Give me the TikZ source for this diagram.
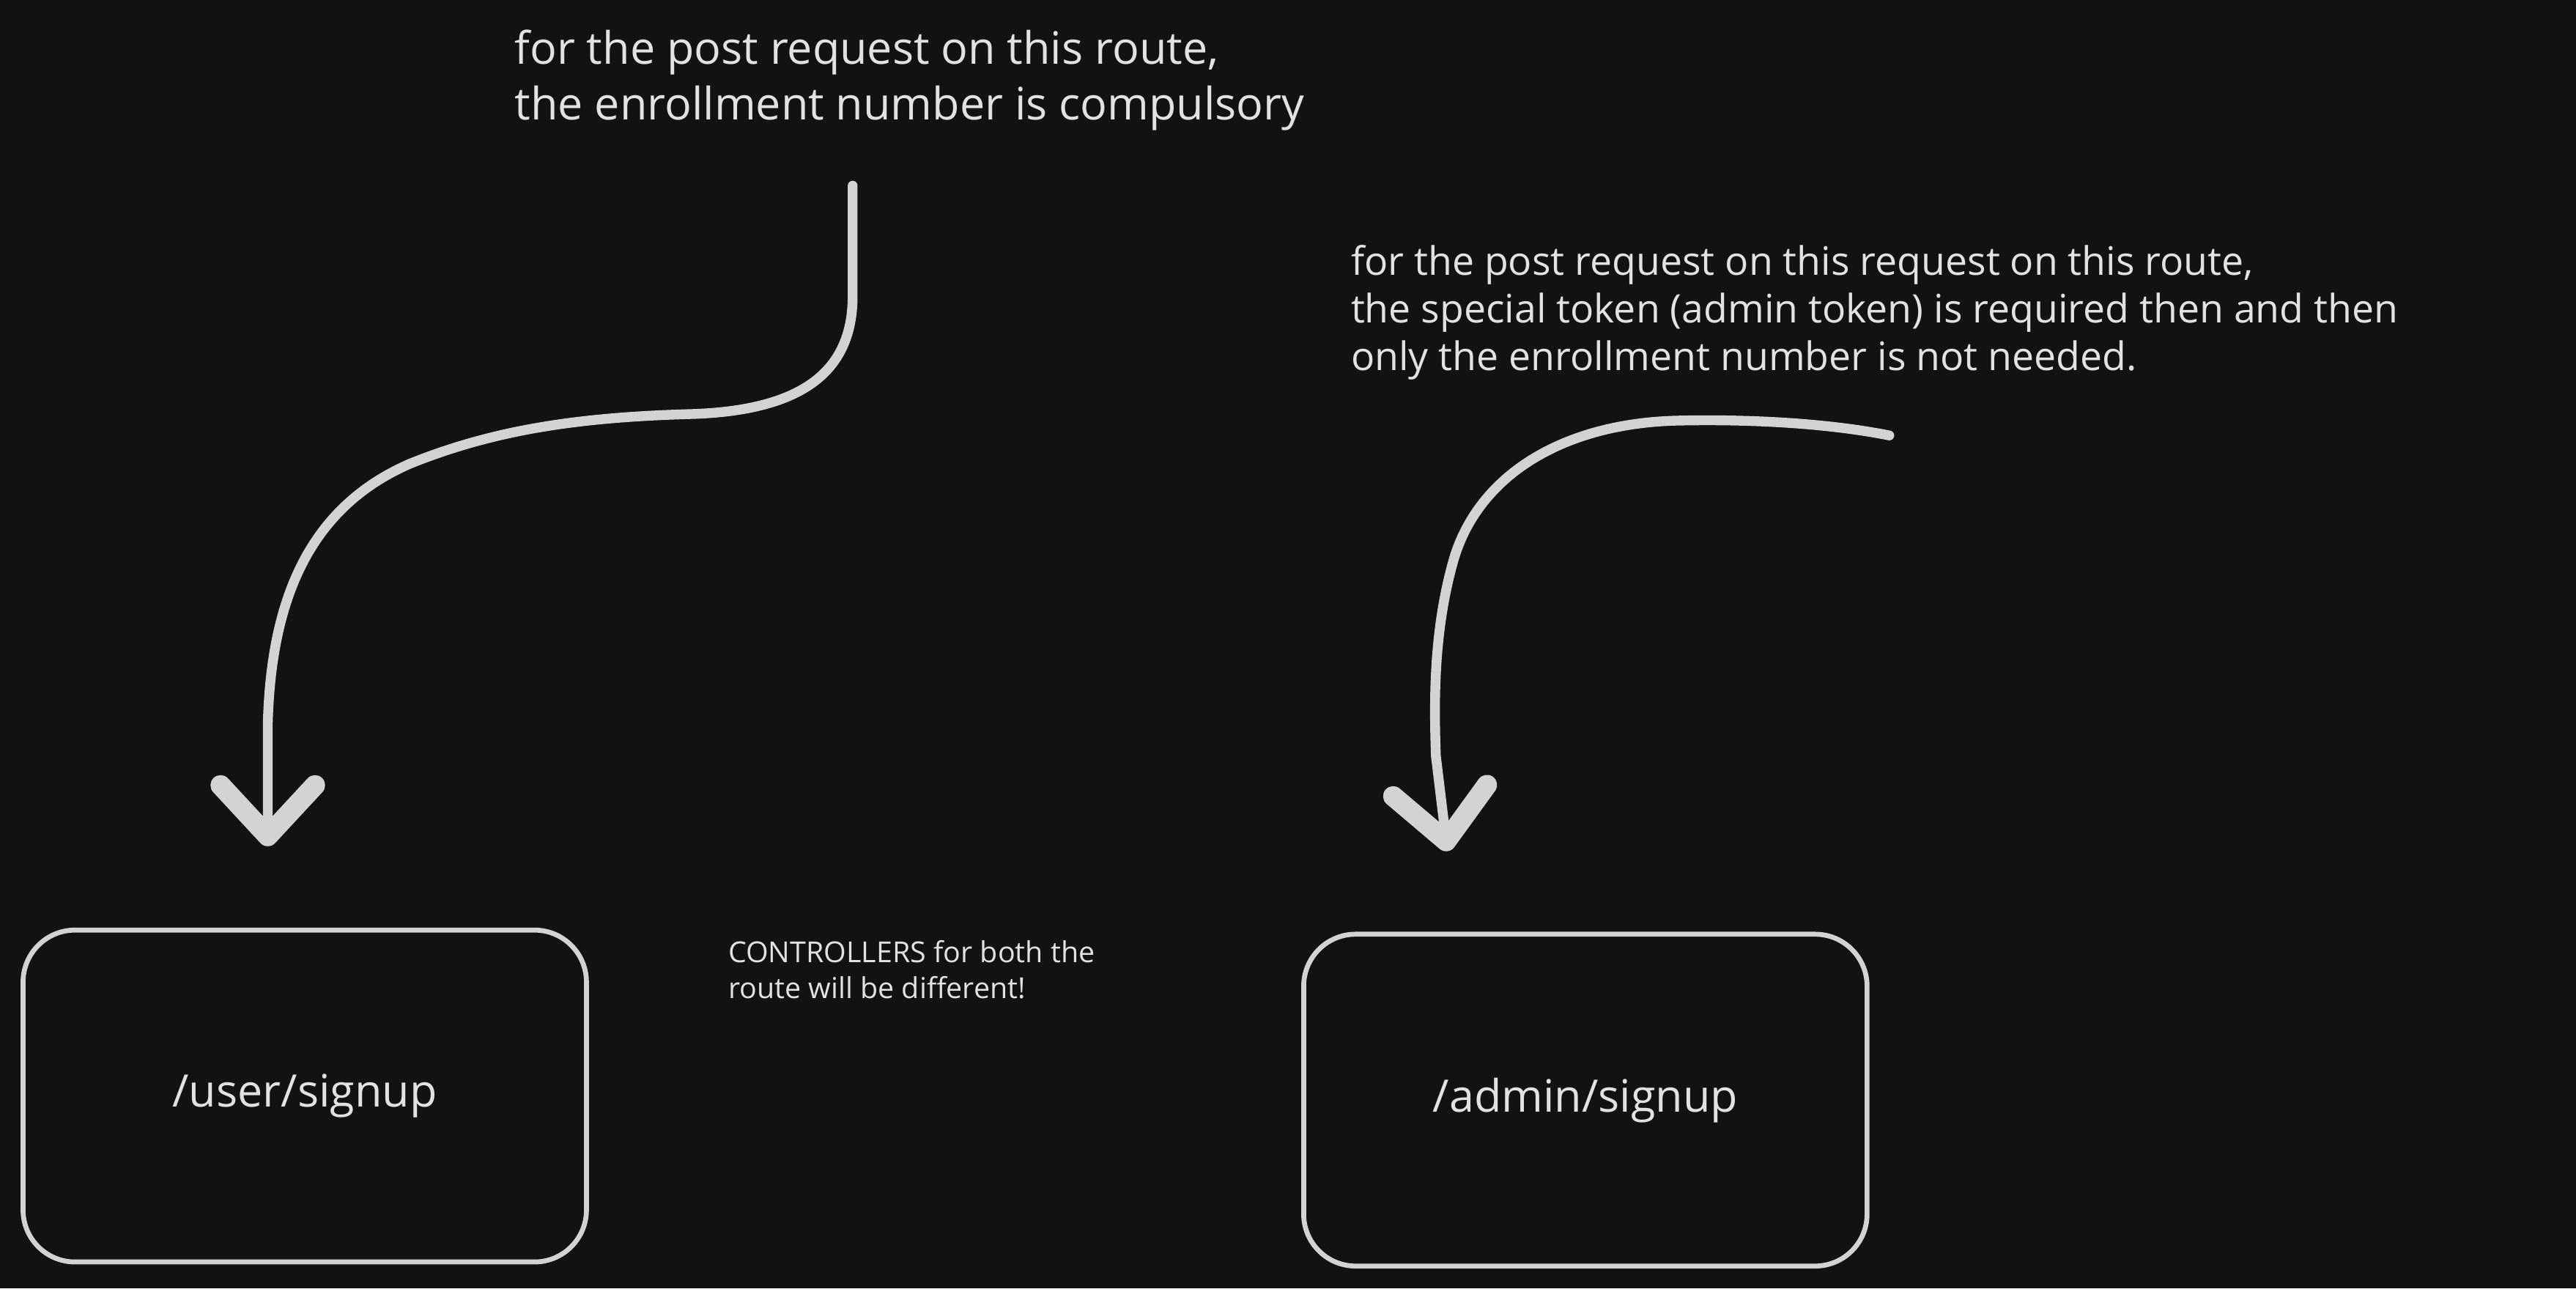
\documentclass[tikz,border=0pt]{standalone}
\usepackage{fontspec}
\setmainfont{Open Sans}
\usetikzlibrary{arrows.meta, positioning}
\definecolor{bgdark}{HTML}{121212}
\definecolor{chalk}{HTML}{D3D3D3}
\definecolor{chalktext}{HTML}{E2E2E2}
\tikzset{
  note/.style      = {text=chalktext, align=left, inner sep=0pt, anchor=north west},
  bignote/.style   = {note, font=\fontsize{15.5}{19.2}\selectfont},
  midnote/.style   = {note, font=\fontsize{13.6}{16.4}\selectfont},
  smallnote/.style = {note, font=\fontsize{10}{12.5}\selectfont},
  route/.style     = {draw=chalk, line width=1.7pt, rounded corners=18pt,
                      minimum width=6.86cm, minimum height=4.04cm,
                      text=chalktext, font=\fontsize{15.5}{18}\selectfont},
  sketch/.style    = {draw=chalk, line width=3.4pt, line cap=round, line join=round,
                      -{Straight Barb[length=0.62cm, width=1.15cm, line width=7pt, round]}}
}
\begin{document}
\begin{tikzpicture}[x=0.02cm, y=-0.02cm]
  % background
  \fill[bgdark] (0,0) rectangle (1568,784);
  \useasboundingbox (0,0) rectangle (1568,784);

  % notes
  \node[bignote] (usernote) at (313,18)
    {for the post request on this route,\\the enrollment number is compulsory};
  \node[midnote] (adminnote) at (822,149)
    {for the post request on this request on this route,\\the special token (admin token) is required then and then\\only the enrollment number is not needed.};
  \node[smallnote] (ctrlnote) at (443,572)
    {CONTROLLERS for both the\\route will be different!};

  % routes
  \node[route] (userbox) at (185.5,667) {/user/signup};
  \node[route] (adminbox) at (965,669.5) {/admin/signup};

  % arrow ends
  \coordinate (userstart) at (519,113);
  \coordinate (usertip) at (163,515);
  \coordinate (adminstart) at (1150,265);
  \coordinate (admintip) at (881,518);

  \draw[sketch] (userstart) -- (519,180)
    .. controls (519,225) and (490,250) .. (420,252)
    .. controls (350,254) and (300,262) .. (250,282)
    .. controls (185,310) and (165,370) .. (163,440) -- (usertip);
  \draw[sketch] (adminstart)
    .. controls (1110,257) and (1060,255) .. (1020,256)
    .. controls (950,258) and (900,290) .. (885,340)
    .. controls (872,385) and (873,430) .. (874,460) -- (admintip);
\end{tikzpicture}
\end{document}
